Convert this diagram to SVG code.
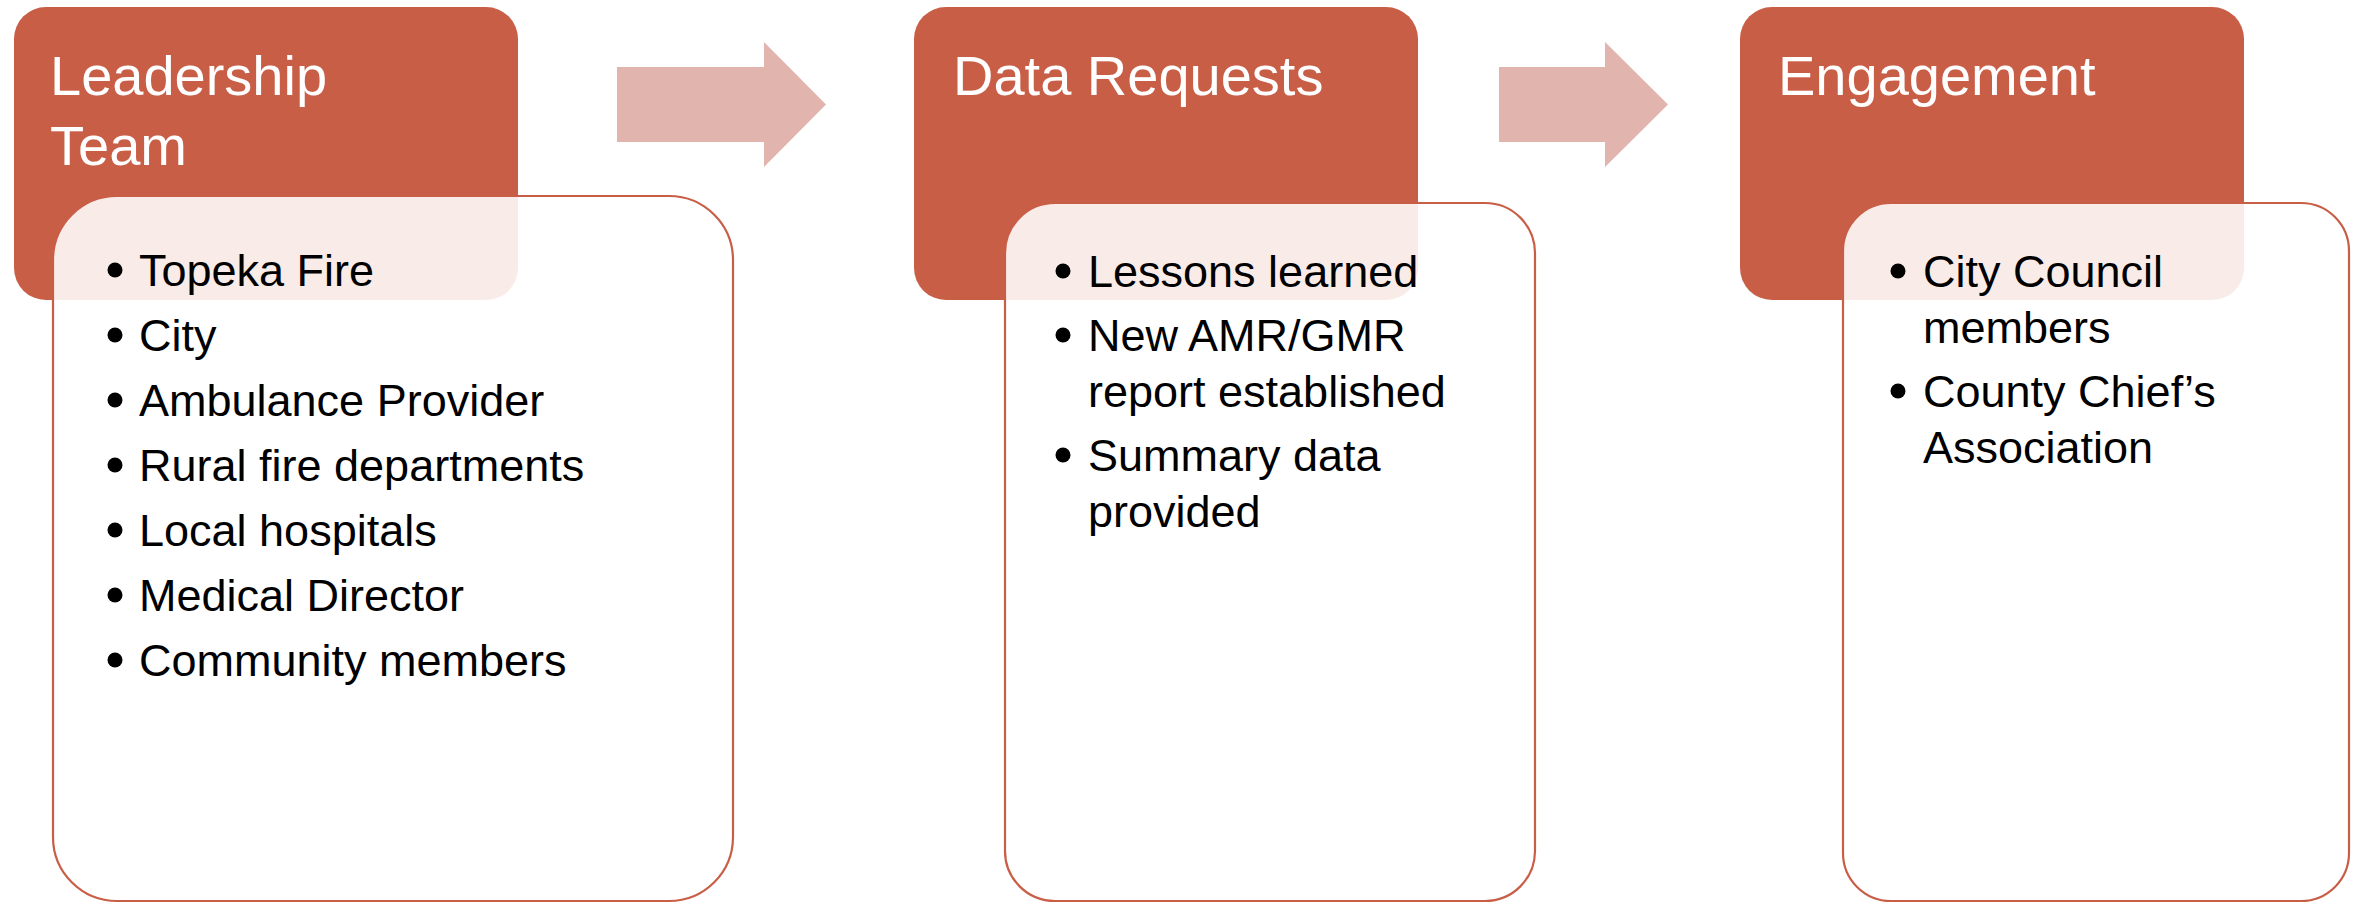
<svg xmlns="http://www.w3.org/2000/svg" width="2359" height="905" viewBox="0 0 2359 905">
<style>
.hdr{fill:#C95E47;}
.body{fill:#FFFFFF;fill-opacity:0.88;stroke:#C95E47;stroke-width:2.2;}
.arrow{fill:#E1B4AE;}
.title{font-family:"Liberation Sans",Arial,sans-serif;font-size:56px;fill:#FFFFFF;}
.item{font-family:"Liberation Sans",Arial,sans-serif;font-size:45px;fill:#000000;}
.dot{fill:#000000;}
</style>
<rect width="2359" height="905" fill="#FFFFFF"/>
<g id="connectors">
  <polygon class="arrow" points="617,67 764,67 764,42 826,104.5 764,167 764,142 617,142"/>
  <polygon class="arrow" points="1499,67 1605,67 1605,42 1668,104.5 1605,167 1605,142 1499,142"/>
</g>
<g id="node-leadership">
  <rect class="hdr" x="14" y="7" width="504" height="293" rx="32" ry="32"/>
  <text class="title" x="50" y="95">Leadership</text>
  <text class="title" x="50" y="165">Team</text>
  <rect class="body" x="53" y="196" width="680" height="705" rx="64" ry="64"/>
  <circle class="dot" cx="115" cy="270" r="7.5"/>
  <circle class="dot" cx="115" cy="335" r="7.5"/>
  <circle class="dot" cx="115" cy="400" r="7.5"/>
  <circle class="dot" cx="115" cy="465" r="7.5"/>
  <circle class="dot" cx="115" cy="530" r="7.5"/>
  <circle class="dot" cx="115" cy="595" r="7.5"/>
  <circle class="dot" cx="115" cy="660" r="7.5"/>
  <text class="item" x="139" y="286">Topeka Fire</text>
  <text class="item" x="139" y="351">City</text>
  <text class="item" x="139" y="416">Ambulance Provider</text>
  <text class="item" x="139" y="481">Rural fire departments</text>
  <text class="item" x="139" y="546">Local hospitals</text>
  <text class="item" x="139" y="611">Medical Director</text>
  <text class="item" x="139" y="676">Community members</text>
</g>
<g id="node-data">
  <rect class="hdr" x="914" y="7" width="504" height="293" rx="32" ry="32"/>
  <text class="title" x="953" y="95">Data Requests</text>
  <rect class="body" x="1005" y="203" width="530" height="698" rx="50" ry="50"/>
  <circle class="dot" cx="1063" cy="271" r="7.5"/>
  <circle class="dot" cx="1063" cy="335" r="7.5"/>
  <circle class="dot" cx="1063" cy="455" r="7.5"/>
  <text class="item" x="1088" y="287">Lessons learned</text>
  <text class="item" x="1088" y="351">New AMR/GMR</text>
  <text class="item" x="1088" y="407">report established</text>
  <text class="item" x="1088" y="471">Summary data</text>
  <text class="item" x="1088" y="527">provided</text>
</g>
<g id="node-engagement">
  <rect class="hdr" x="1740" y="7" width="504" height="293" rx="32" ry="32"/>
  <text class="title" x="1778" y="95">Engagement</text>
  <rect class="body" x="1843" y="203" width="506" height="698" rx="48" ry="48"/>
  <circle class="dot" cx="1898" cy="271" r="7.5"/>
  <circle class="dot" cx="1898" cy="391" r="7.5"/>
  <text class="item" x="1923" y="287">City Council</text>
  <text class="item" x="1923" y="343">members</text>
  <text class="item" x="1923" y="407">County Chief’s</text>
  <text class="item" x="1923" y="463">Association</text>
</g>
</svg>
